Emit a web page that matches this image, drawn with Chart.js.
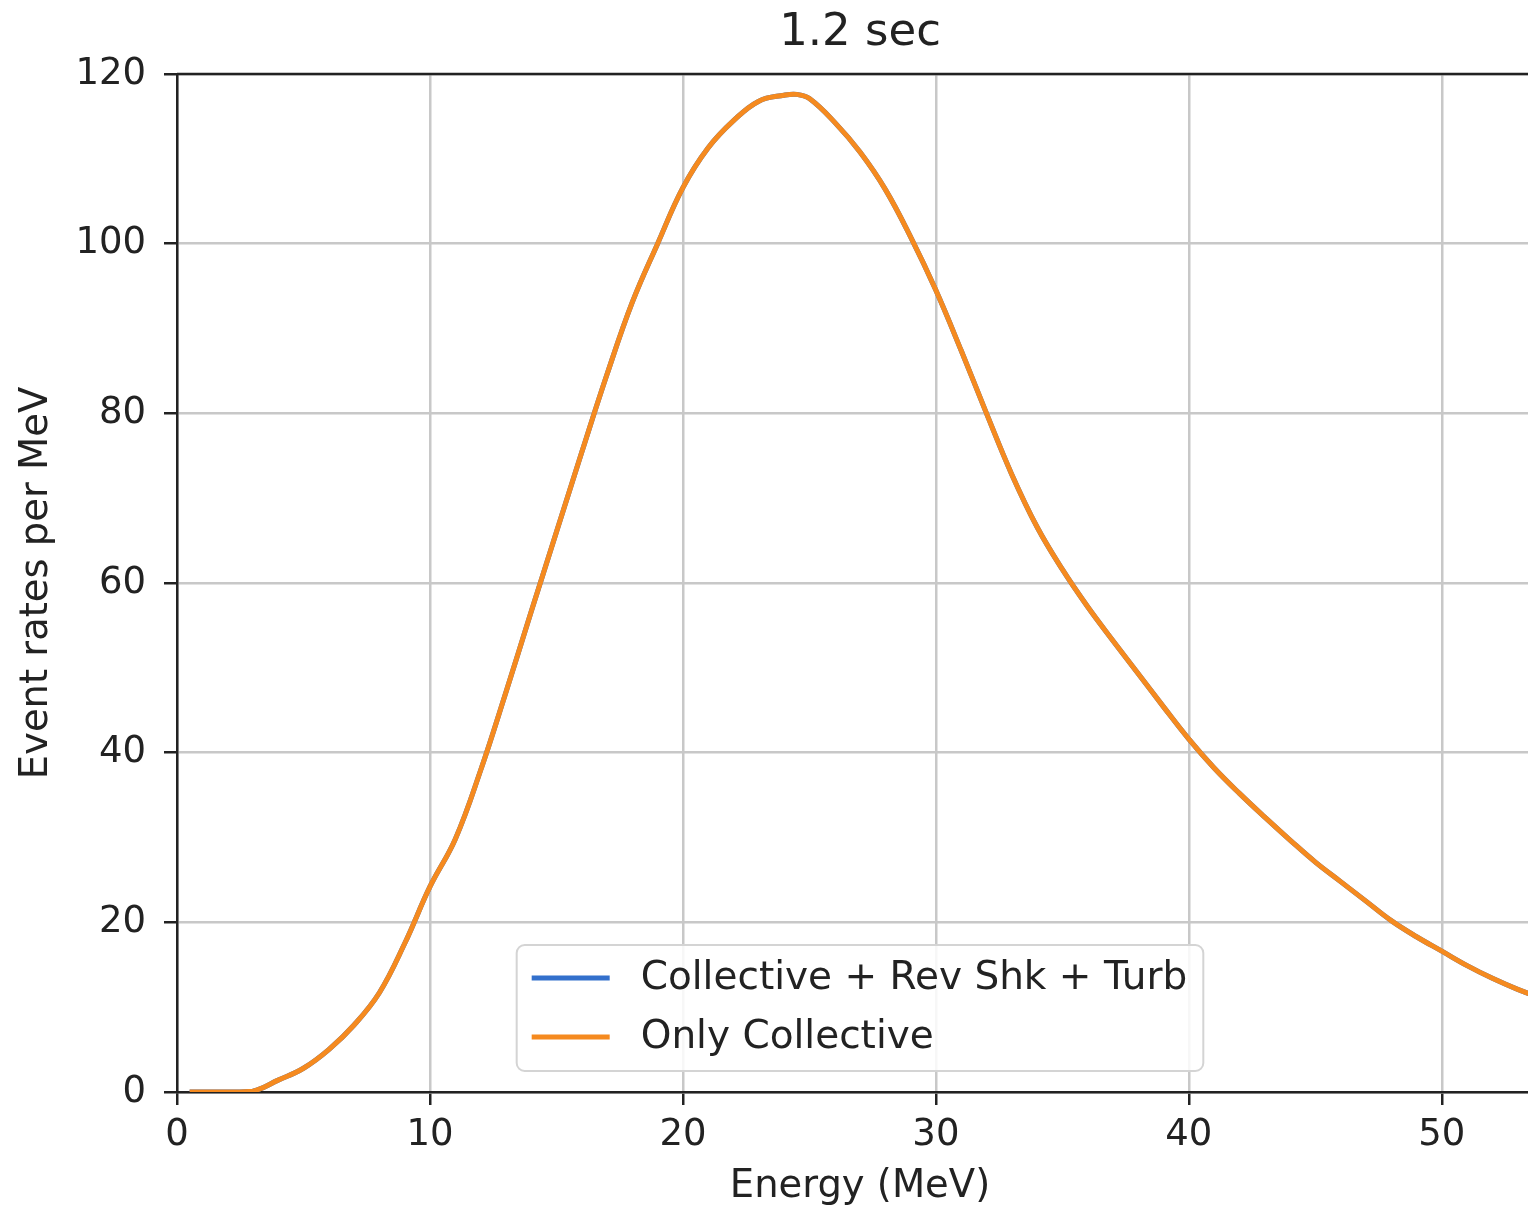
<!DOCTYPE html>
<html>
<head>
<meta charset="utf-8">
<script src="https://cdn.jsdelivr.net/npm/chart.js@4.4.1/dist/chart.umd.min.js"></script>
<style>
  html, body { margin: 0; padding: 0; background: #fff; }
  #wrap { width: 1528px; height: 1210px; overflow: hidden; }
  canvas { display: block; }
</style>
</head>
<body>
<div id="wrap"><canvas id="spectrum" width="1560" height="1210"></canvas></div>
<script>
// energy grid (MeV) and event rates
const energy = [0.5, 1, 2, 3, 4, 5, 6, 7, 8, 9, 10, 11, 12, 13, 14, 15, 16, 17, 18, 19, 20,
  21, 22, 23, 24, 24.5, 25, 26, 27, 28, 29, 30, 31, 32, 33, 34, 35, 36, 37, 38, 39, 40,
  41, 42, 43, 44, 45, 46, 47, 48, 49, 50, 51, 52, 53, 54];
const collectiveShkTurb = [0, 0, 0, 0.1, 1.4, 2.8, 5.0, 7.9, 11.7, 17.5, 24.2, 29.8, 37.9, 47.1, 56.6, 66.0, 75.4, 84.6, 93.1, 100, 106.6,
  111.3, 114.5, 116.8, 117.5, 117.6, 117.1, 114.3, 110.8, 106.4, 100.8, 94.5, 87.4, 80.0, 72.8, 66.6, 61.6, 57.2, 53.2, 49.3, 45.4, 41.6,
  38.2, 35.2, 32.4, 29.7, 27.1, 24.8, 22.5, 20.2, 18.3, 16.6, 14.9, 13.4, 12.1, 11.0];
const onlyCollective = [0, 0, 0, 0.1, 1.4, 2.8, 5.0, 7.9, 11.7, 17.5, 24.2, 29.8, 37.9, 47.1, 56.6, 66.0, 75.4, 84.6, 93.1, 100, 106.6,
  111.3, 114.5, 116.8, 117.5, 117.6, 117.1, 114.3, 110.8, 106.4, 100.8, 94.5, 87.4, 80.0, 72.8, 66.6, 61.6, 57.2, 53.2, 49.3, 45.4, 41.6,
  38.2, 35.2, 32.4, 29.7, 27.1, 24.8, 22.5, 20.2, 18.3, 16.6, 14.9, 13.4, 12.1, 11.0];
const xTicks = [0, 10, 20, 30, 40, 50];
const yTicks = [0, 20, 40, 60, 80, 100, 120];
const seriesNames = ["Collective + Rev Shk + Turb", "Only Collective"];
const seriesColors = ["#3370cc", "#f58a1f"];

const FONT = "'DejaVu Sans', sans-serif";
const INK = "#222";

const toPoints = ys => energy.map((x, i) => ({ x: x, y: ys[i] }));

// matplotlib-like frame (top/right spines) and inset legend
const framePlugin = {
  id: "frame",
  afterDraw(chart) {
    const { ctx, chartArea: a } = chart;
    ctx.save();
    ctx.strokeStyle = INK;
    ctx.lineWidth = 2.5;
    ctx.beginPath();
    ctx.moveTo(a.left, a.top);
    ctx.lineTo(a.right, a.top);
    ctx.lineTo(a.right, a.bottom);
    ctx.stroke();

    // legend
    ctx.font = "39px " + FONT;
    const textW = Math.max(...seriesNames.map(s => ctx.measureText(s).width));
    const w = textW + 140, h = 126;
    const x0 = (a.left + a.right) / 2 - w / 2;
    const y0 = a.bottom - 21 - h;
    ctx.beginPath();
    ctx.roundRect(x0, y0, w, h, 8);
    ctx.fillStyle = "rgba(255,255,255,0.85)";
    ctx.fill();
    ctx.strokeStyle = "#d4d4d4";
    ctx.lineWidth = 2;
    ctx.stroke();
    seriesNames.forEach((name, i) => {
      const cy = y0 + 33 + i * 59;
      ctx.strokeStyle = seriesColors[i];
      ctx.lineWidth = 5;
      ctx.beginPath();
      ctx.moveTo(x0 + 15, cy);
      ctx.lineTo(x0 + 93, cy);
      ctx.stroke();
      ctx.fillStyle = INK;
      ctx.textBaseline = "middle";
      ctx.textAlign = "left";
      ctx.fillText(name, x0 + 124, cy + 1);
    });
    ctx.restore();
  }
};

new Chart(document.getElementById("spectrum"), {
  type: "line",
  data: {
    datasets: [
      { label: seriesNames[0], data: toPoints(collectiveShkTurb), borderColor: seriesColors[0], order: 1 },
      { label: seriesNames[1], data: toPoints(onlyCollective), borderColor: seriesColors[1], order: 0 }
    ]
  },
  options: {
    responsive: false,
    animation: false,
    layout: { padding: { left: 0, right: 17, top: 0, bottom: 0 } },
    elements: {
      point: { radius: 0 },
      line: { borderWidth: 5, tension: 0.4, fill: false }
    },
    plugins: {
      legend: { display: false },
      tooltip: { enabled: false },
      title: {
        display: true, text: "1.2 sec", fullSize: false, color: INK,
        font: { family: FONT, size: 45, weight: "normal" },
        padding: { top: 6, bottom: 14 }
      }
    },
    scales: {
      x: {
        type: "linear", min: 0, max: 54,
        afterBuildTicks: s => { s.ticks = xTicks.map(v => ({ value: v })); },
        afterFit: s => { s.height = 118; },
        grid: { color: "#c8c8c8", lineWidth: 2.5, tickLength: 13, tickColor: INK, tickWidth: 2.5 },
        border: { display: true, color: INK, width: 2.5 },
        ticks: { color: INK, padding: 8, maxRotation: 0, font: { family: FONT, size: 37 } },
        title: { display: true, text: "Energy (MeV)", color: INK, padding: { top: 0, bottom: 0 }, font: { family: FONT, size: 38.5 } }
      },
      y: {
        min: 0, max: 120,
        afterBuildTicks: s => { s.ticks = yTicks.map(v => ({ value: v })); },
        afterFit: s => { s.width = 177; },
        grid: { color: "#c8c8c8", lineWidth: 2.5, tickLength: 13, tickColor: INK, tickWidth: 2.5 },
        border: { display: true, color: INK, width: 2.5 },
        ticks: { color: INK, padding: 18, font: { family: FONT, size: 37 } },
        title: { display: true, text: "Event rates per MeV", color: INK, padding: { top: 14, bottom: 0 }, font: { family: FONT, size: 38.5 } }
      }
    }
  },
  plugins: [framePlugin]
});
</script>
</body>
</html>
